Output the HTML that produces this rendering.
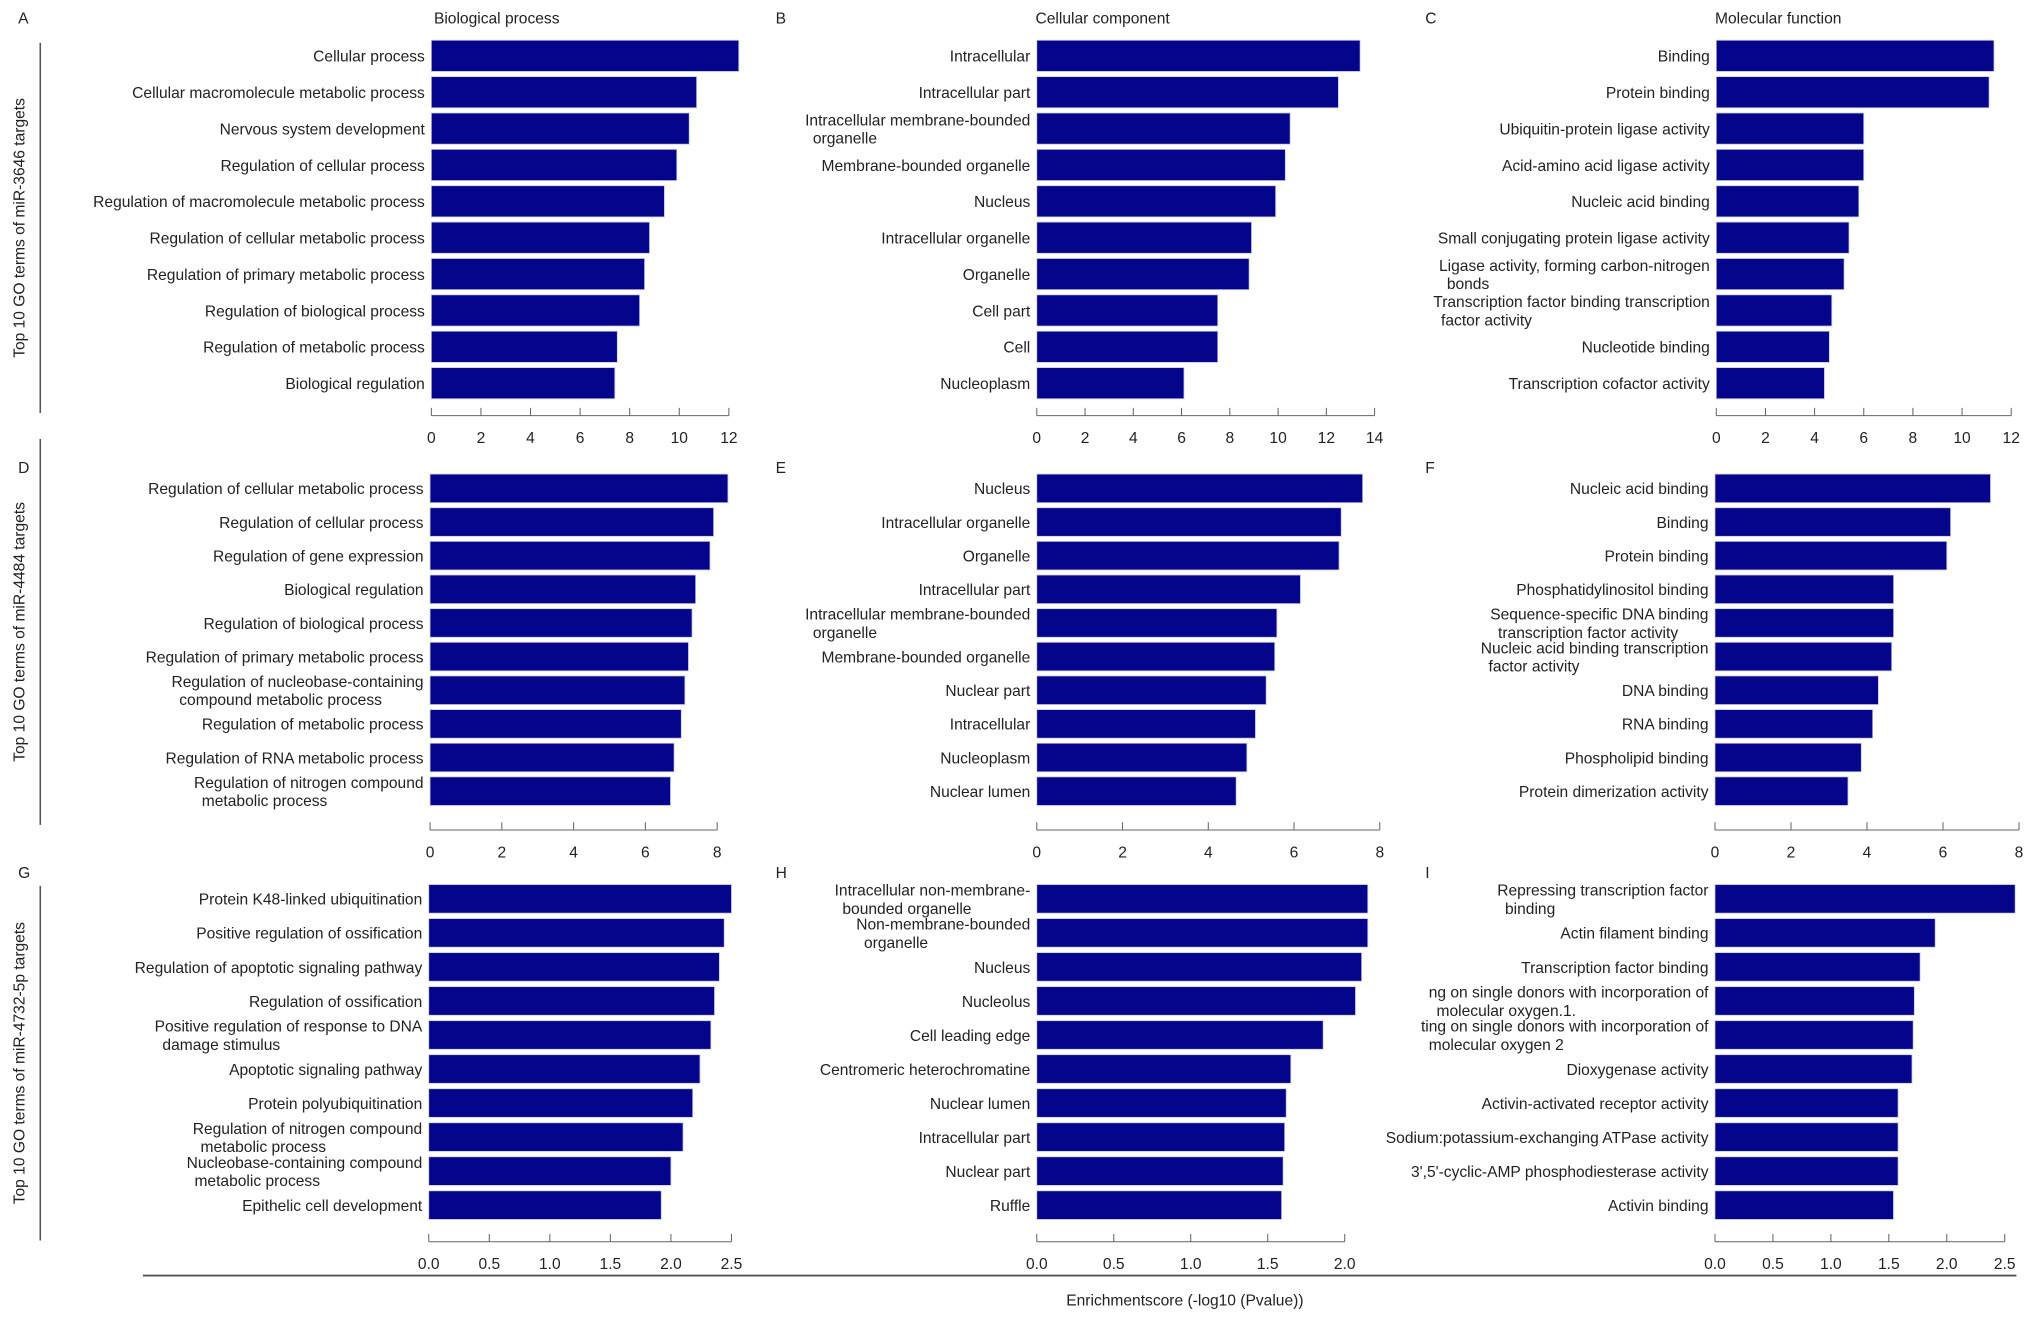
<!DOCTYPE html>
<html><head><meta charset="utf-8"><style>
html,body{margin:0;padding:0;background:#fff}
svg{display:block}
text{font-family:"Liberation Sans",Arial,sans-serif;fill:#222}
</style></head><body>
<svg id="chart" width="2032" height="1321" viewBox="0 0 1564 1017" preserveAspectRatio="none" xmlns="http://www.w3.org/2000/svg"></svg>
<script>
const A_labels=["Cellular process","Cellular macromolecule metabolic process","Nervous system development","Regulation of cellular process","Regulation of macromolecule metabolic process","Regulation of cellular metabolic process","Regulation of primary metabolic process","Regulation of biological process","Regulation of metabolic process","Biological regulation"];
const A_values=[12.4,10.7,10.4,9.9,9.4,8.8,8.6,8.4,7.5,7.4];
const A_ticks=[0,2,4,6,8,10,12];
const B_labels=["Intracellular","Intracellular part","Intracellular membrane-bounded|organelle","Membrane-bounded organelle","Nucleus","Intracellular organelle","Organelle","Cell part","Cell","Nucleoplasm"];
const B_values=[13.4,12.5,10.5,10.3,9.9,8.9,8.8,7.5,7.5,6.1];
const B_ticks=[0,2,4,6,8,10,12,14];
const C_labels=["Binding","Protein binding","Ubiquitin-protein ligase activity","Acid-amino acid ligase activity","Nucleic acid binding","Small conjugating protein ligase activity","Ligase activity, forming carbon-nitrogen|bonds","Transcription factor binding transcription|factor activity","Nucleotide binding","Transcription cofactor activity"];
const C_values=[11.3,11.1,6.0,6.0,5.8,5.4,5.2,4.7,4.6,4.4];
const C_ticks=[0,2,4,6,8,10,12];
const D_labels=["Regulation of cellular metabolic process","Regulation of cellular process","Regulation of gene expression","Biological regulation","Regulation of biological process","Regulation of primary metabolic process","Regulation of nucleobase-containing|compound metabolic process","Regulation of metabolic process","Regulation of RNA metabolic process","Regulation of nitrogen compound|metabolic process"];
const D_values=[8.3,7.9,7.8,7.4,7.3,7.2,7.1,7.0,6.8,6.7];
const D_ticks=[0,2,4,6,8];
const E_labels=["Nucleus","Intracellular organelle","Organelle","Intracellular part","Intracellular membrane-bounded|organelle","Membrane-bounded organelle","Nuclear part","Intracellular","Nucleoplasm","Nuclear lumen"];
const E_values=[7.6,7.1,7.05,6.15,5.6,5.55,5.35,5.1,4.9,4.65];
const E_ticks=[0,2,4,6,8];
const F_labels=["Nucleic acid binding","Binding","Protein binding","Phosphatidylinositol binding","Sequence-specific DNA binding|transcription factor activity","Nucleic acid binding transcription|factor activity","DNA binding","RNA binding","Phospholipid binding","Protein dimerization activity"];
const F_values=[7.25,6.2,6.1,4.7,4.7,4.65,4.3,4.15,3.85,3.5];
const F_ticks=[0,2,4,6,8];
const G_labels=["Protein K48-linked ubiquitination","Positive regulation of ossification","Regulation of apoptotic signaling pathway","Regulation of ossification","Positive regulation of response to DNA|damage stimulus","Apoptotic signaling pathway","Protein polyubiquitination","Regulation of nitrogen compound|metabolic process","Nucleobase-containing compound|metabolic process","Epithelic cell development"];
const G_values=[2.5,2.44,2.4,2.36,2.33,2.24,2.18,2.1,2.0,1.92];
const G_ticks=[0,0.5,1,1.5,2,2.5];
const H_labels=["Intracellular non-membrane-|bounded organelle","Non-membrane-bounded|organelle","Nucleus","Nucleolus","Cell leading edge","Centromeric heterochromatine","Nuclear lumen","Intracellular part","Nuclear part","Ruffle"];
const H_values=[2.15,2.15,2.11,2.07,1.86,1.65,1.62,1.61,1.6,1.59];
const H_ticks=[0,0.5,1,1.5,2];
const I_labels=["Repressing transcription factor|binding","Actin filament binding","Transcription factor binding","ng on single donors with incorporation of|molecular oxygen.1.","ting on single donors with incorporation of|molecular oxygen 2","Dioxygenase activity","Activin-activated receptor activity","Sodium:potassium-exchanging ATPase activity","3',5'-cyclic-AMP phosphodiesterase activity","Activin binding"];
const I_values=[2.59,1.9,1.77,1.72,1.71,1.70,1.58,1.58,1.58,1.54];
const I_ticks=[0,0.5,1,1.5,2,2.5];

const NS="http://www.w3.org/2000/svg";
const svg=document.getElementById('chart');
function mk(tag,attrs,parent){const e=document.createElementNS(NS,tag);for(const k in attrs)e.setAttribute(k,attrs[k]);(parent||svg).appendChild(e);return e;}

const rows=[{top:43,step:28,h:24,axisY:320},{top:376,step:25.9,h:22,axisY:639},{top:692,step:26.2,h:22,axisY:956}];
const panels=[
 ["A",A_labels,A_values,A_ticks,0,0,332,12,561,false],
 ["B",B_labels,B_values,B_ticks,0,1,798,14,1058,false],
 ["C",C_labels,C_values,C_ticks,0,2,1321,12,1548,false],
 ["D",D_labels,D_values,D_ticks,1,0,331,8,552,false],
 ["E",E_labels,E_values,E_ticks,1,1,798,8,1062,false],
 ["F",F_labels,F_values,F_ticks,1,2,1320,8,1554,false],
 ["G",G_labels,G_values,G_ticks,2,0,330,2.5,563,true],
 ["H",H_labels,H_values,H_ticks,2,1,798,2,1035,true],
 ["I",I_labels,I_values,I_ticks,2,2,1320,2.5,1543,true]
];
const letterX=[14,597,1097], letterY=[18,364,676];
const FS=12;

panels.forEach(p=>{
 const [L,labels,values,ticks,r,c,x0,tref,xref,dec]=p;
 const row=rows[r];
 const g=mk('g',{});
 
 
 const xs=v=>x0+(v/tref)*(xref-x0);
 const lt=mk('text',{x:letterX[c],y:letterY[r],'font-size':12},g);lt.textContent=L;
 
 
 values.forEach((v,i)=>{
  const cy=row.top+i*row.step;
  const b=mk('rect',{x:xs(0),y:cy-row.h/2,width:xs(v)-xs(0),height:row.h,fill:'#05058c',stroke:'#c8c8e8','stroke-width':0.6},g);
  
  
  const parts=labels[i].split('|');
  const t=mk('text',{'font-size':FS,'text-anchor':'end'},g);
  
  
  if(parts.length===1){t.setAttribute('x',xs(0)-5);t.setAttribute('y',cy+4.5);t.textContent=parts[0];}
  else{
   t.setAttribute('text-anchor','start');
   const spans=parts.map((s,j)=>{const ts=mk('tspan',{x:0,y:cy-2.5+j*14},t);ts.textContent=s;return ts;});
   const w=Math.max(...spans.map(s=>s.getComputedTextLength()));
   const left=xs(0)-5-w;
   spans.forEach((s,j)=>s.setAttribute('x',left+(j?6:0)));
  }
 });
 const ay=row.axisY;
 const ax=mk('line',{x1:xs(ticks[0]),x2:xs(ticks[ticks.length-1]),y1:ay,y2:ay,stroke:'#666','stroke-width':0.8},g);
 
 
 ticks.forEach(tv=>{
  mk('line',{x1:xs(tv),x2:xs(tv),y1:ay,y2:ay-6,stroke:'#666','stroke-width':0.8},g);
  const tt=mk('text',{x:xs(tv),y:ay+21,'font-size':12,'text-anchor':'middle'},g);
  tt.textContent=dec?tv.toFixed(1):String(tv);
  
  
 });
});

const titles=[["Biological process",334],["Cellular component",797],["Molecular function",1320]];
titles.forEach(([s,x])=>{const t=mk('text',{x:x,y:18,'font-size':12});t.textContent=s;
 
 });

const rowT=[["Top 10 GO terms of miR-3646 targets",33,318],["Top 10 GO terms of miR-4484 targets",338,635],["Top 10 GO terms of miR-4732-5p targets",682,955]];
rowT.forEach(([s,y1,y2])=>{
 const l=mk('line',{x1:31,x2:31,y1:y1,y2:y2,stroke:'#555','stroke-width':1.2});
 
 
 const cy=(y1+y2)/2;
 const t=mk('text',{x:19,y:cy,'font-size':12,'text-anchor':'middle',transform:`rotate(-90 19 ${cy})`});
 t.textContent=s;
 
 
});
const bl=mk('line',{x1:110,x2:1552,y1:982,y2:982,stroke:'#555','stroke-width':1.5});


const xt=mk('text',{x:912,y:1005,'font-size':12,'text-anchor':'middle'});
xt.textContent="Enrichmentscore (-log10 (Pvalue))";


</script>
</body></html>
